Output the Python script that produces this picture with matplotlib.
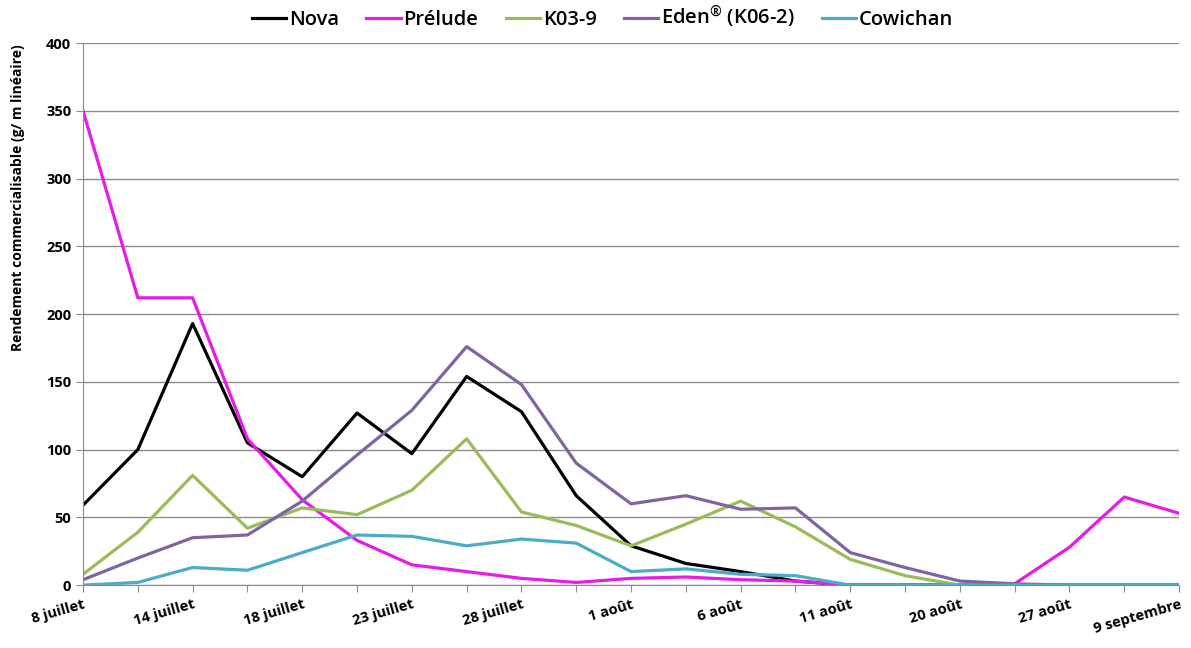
import matplotlib.pyplot as plt
import numpy as np

plt.rcParams['font.family'] = ['Open Sans', 'DejaVu Sans']

# Données (21 relevés, étiquettes un relevé sur deux)
tick_labels = ['8 juillet', '14 juillet', '18 juillet', '23 juillet', '28 juillet',
               '1 août', '6 août', '11 août', '20 août', '27 août', '9 septembre']
nova = [59, 100, 193, 105, 80, 127, 97, 154, 128, 66, 29, 16, 10, 3, 0, 0, 0, 0, 0, 0, 0]
prelude = [350, 212, 212, 108, 63, 33, 15, 10, 5, 2, 5, 6, 4, 3, 0, 0, 0, 1, 28, 65, 53]
k03 = [8, 39, 81, 42, 57, 52, 70, 108, 54, 44, 29, 45, 62, 43, 19, 7, 0, 0, 0, 0, 0]
eden = [4, 20, 35, 37, 62, 96, 129, 176, 148, 90, 60, 66, 56, 57, 24, 13, 3, 1, 0, 0, 0]
cowichan = [0, 2, 13, 11, 24, 37, 36, 29, 34, 31, 10, 12, 8, 7, 0, 0, 0, 0, 0, 0, 0]

series = [('Nova', nova, '#000000'),
          ('Prélude', prelude, '#E61CE6'),
          ('K03-9', k03, '#9BBB59'),
          (r'Eden$^{\mathregular{®}}$ (K06-2)', eden, '#8064A2'),
          ('Cowichan', cowichan, '#4BACC6')]

x = np.arange(len(nova))

fig = plt.figure(figsize=(11.91, 6.48), dpi=100)
ax = fig.add_axes([0.0697, 0.097, 0.9203, 0.8366])

for name, vals, col in series:
    ax.plot(x, vals, color=col, linewidth=2.3, label=name)

ax.set_xlim(0, len(x) - 1)
ax.set_ylim(0, 400)
ax.set_yticks(range(0, 401, 50))
ax.set_xticks(x)
labels = []
for i in x:
    labels.append(tick_labels[i // 2] if i % 2 == 0 else '')
ax.set_xticklabels(labels, rotation=16, ha='right', rotation_mode='anchor',
                   fontsize=10.5, fontweight='bold')
for t in ax.get_yticklabels():
    t.set_fontsize(10.5)
    t.set_fontweight('bold')

ax.yaxis.grid(True, color='#8c8c8c', linewidth=1)
ax.set_axisbelow(True)
for s in ['top', 'right']:
    ax.spines[s].set_visible(False)
for s in ['left', 'bottom']:
    ax.spines[s].set_color('#8c8c8c')
ax.tick_params(axis='both', colors='#8c8c8c', labelcolor='black', length=5)
ax.tick_params(axis='x', pad=4)

ax.set_ylabel('Rendement commercialisable (g/ m linéaire)', fontsize=10,
              fontweight='bold')
ax.yaxis.set_label_coords(-0.053, 0.715)

fig.legend(loc='upper center', bbox_to_anchor=(0.506, 1.022), ncol=5, frameon=False,
           prop={'size': 14.5, 'weight': 'semibold'}, handlelength=1.7,
           handletextpad=0.15, columnspacing=1.35)

fig.savefig('out.png', dpi=100)
